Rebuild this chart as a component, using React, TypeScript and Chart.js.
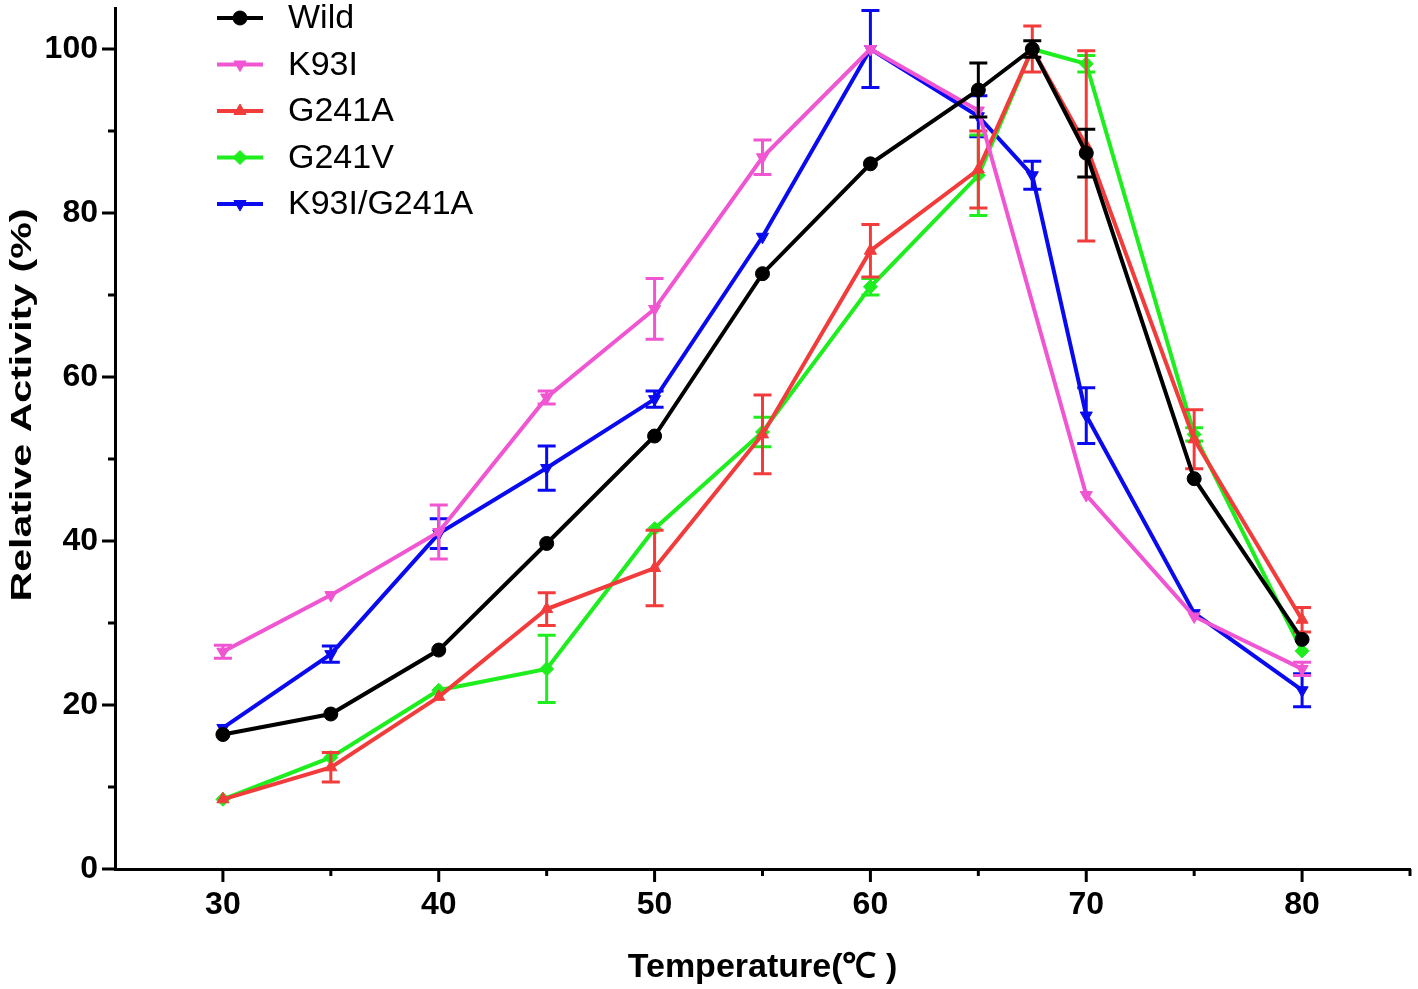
import React, { useEffect, useRef } from 'react';
import { Chart, registerables } from 'chart.js';
import { drawPoint } from 'chart.js/helpers';

Chart.register(...registerables);

// ---------- data ----------
const temperatures = [30, 35, 40, 45, 50, 55, 60, 65, 67.5, 70, 75, 80];

const wildValues = [16.4, 18.9, 26.7, 39.7, 52.8, 72.6, 86.0, 95.0, 100, 87.3, 47.6, 28.0];
const wildErrors = [0, 0, 0, 0, 0, 0, 0, 3.3, 1.0, 2.9, 0, 0];

const k93iValues = [26.5, 33.4, 41.1, 57.5, 68.3, 86.8, 100, 92.5, null, 45.6, 30.8, 24.4];
const k93iErrors = [0.8, 0, 3.3, 0.8, 3.7, 2.1, 0, 0, null, 0, 0, 0.8];

const g241aValues = [8.5, 12.4, 21.0, 31.7, 36.7, 53.0, 75.4, 85.3, 100, 88.2, 52.4, 30.4];
const g241aErrors = [0, 1.8, 0, 2.0, 4.6, 4.8, 3.2, 4.7, 2.8, 11.6, 3.6, 1.5];

const g241vValues = [8.5, 13.6, 21.8, 24.4, 41.5, 53.3, 71.0, 84.6, 100, 98.2, 53.0, 26.6];
const g241vErrors = [0, 0, 0, 4.1, 0, 1.8, 1.0, 4.9, 0, 1.0, 0.8, 0];

const doubleValues = [17.2, 26.2, 40.9, 48.9, 57.3, 77.1, 100, 91.8, 84.6, 55.3, 31.2, 21.8];
const doubleErrors = [0, 1.0, 1.8, 2.7, 1.0, 0, 4.7, 2.5, 1.7, 3.4, 0, 2.0];

const seriesNames = ['Wild', 'K93I', 'G241A', 'G241V', 'K93I/G241A'];
const seriesColors = ['#000000', '#F055D2', '#F23C3C', '#1EEE1E', '#0A0AF0'];
const seriesStyles = ['circle', 'triangle', 'triangle', 'rectRot', 'triangle'];
const seriesRotations = [0, 180, 0, 0, 180];
const seriesValues = [wildValues, k93iValues, g241aValues, g241vValues, doubleValues];
const seriesErrors = [wildErrors, k93iErrors, g241aErrors, g241vErrors, doubleErrors];

const xMajorTicks = [30, 40, 50, 60, 70, 80];
const xMinorTicks = [35, 45, 55, 65, 75, 85];
const yMajorTicks = [0, 20, 40, 60, 80, 100];
const yMinorTicks = [10, 30, 50, 70, 90];

const xTitle = 'Temperature(℃ )';
const yTitle = 'Relative Activity (%)';

const FONT = "'Liberation Sans', Arial, sans-serif";

// ---------- plugins ----------
const errorBarPlugin = {
  id: 'errorBars',
  afterDatasetDraw(chart: any, args: any) {
    const i = args.index;
    const errs = seriesErrors[i];
    const ctx = chart.ctx;
    const xs = chart.scales.x;
    const ys = chart.scales.y;
    ctx.save();
    ctx.strokeStyle = seriesColors[i];
    ctx.lineWidth = 3;
    temperatures.forEach((t, k) => {
      const v = seriesValues[i][k];
      const e = errs[k];
      if (v == null || !e) return;
      const px = xs.getPixelForValue(t);
      const top = ys.getPixelForValue(v + e);
      const bot = ys.getPixelForValue(v - e);
      ctx.beginPath();
      ctx.moveTo(px, top);
      ctx.lineTo(px, bot);
      ctx.moveTo(px - 9, top);
      ctx.lineTo(px + 9, top);
      ctx.moveTo(px - 9, bot);
      ctx.lineTo(px + 9, bot);
      ctx.stroke();
    });
    ctx.restore();
  },
};

const axisDecorPlugin = {
  id: 'axisDecor',
  afterDraw(chart: any) {
    const ctx = chart.ctx;
    const xs = chart.scales.x;
    const ys = chart.scales.y;
    const area = chart.chartArea;
    ctx.save();
    ctx.strokeStyle = '#000';
    ctx.lineWidth = 3;
    ctx.beginPath();
    yMajorTicks.forEach((v) => {
      const py = ys.getPixelForValue(v);
      ctx.moveTo(area.left - 13, py);
      ctx.lineTo(area.left, py);
    });
    yMinorTicks.forEach((v) => {
      const py = ys.getPixelForValue(v);
      ctx.moveTo(area.left - 7, py);
      ctx.lineTo(area.left, py);
    });
    xMajorTicks.forEach((v) => {
      const px = xs.getPixelForValue(v);
      ctx.moveTo(px, area.bottom);
      ctx.lineTo(px, area.bottom + 13);
    });
    xMinorTicks.forEach((v) => {
      const px = xs.getPixelForValue(v);
      ctx.moveTo(px, area.bottom);
      ctx.lineTo(px, area.bottom + 7);
    });
    ctx.stroke();

    // axis titles
    ctx.fillStyle = '#000';
    ctx.font = `bold 34px ${FONT}`;
    ctx.textAlign = 'center';
    ctx.textBaseline = 'alphabetic';
    ctx.fillText(xTitle, (area.left + area.right) / 2, 977);

    ctx.save();
    ctx.translate(31, 405);
    ctx.rotate(-Math.PI / 2);
    ctx.scale(1.37, 1);
    ctx.font = `bold 30px ${FONT}`;
    ctx.fillText(yTitle, 0, 0);
    ctx.restore();

    // legend
    ctx.font = `34px ${FONT}`;
    ctx.textAlign = 'left';
    ctx.textBaseline = 'middle';
    seriesNames.forEach((name, i) => {
      const y = 18 + i * 46.5;
      ctx.strokeStyle = seriesColors[i];
      ctx.fillStyle = seriesColors[i];
      ctx.lineWidth = 4;
      ctx.beginPath();
      ctx.moveTo(217, y);
      ctx.lineTo(263, y);
      ctx.stroke();
      ctx.lineWidth = 1;
      drawPoint(ctx, { pointStyle: seriesStyles[i], radius: 7, rotation: seriesRotations[i], borderWidth: 1 } as any, 240, y);
      ctx.fillStyle = '#000';
      ctx.fillText(name, 288, y + 1);
    });
    ctx.restore();
  },
};

function zeroPadding(scale: any) {
  scale.paddingTop = 0;
  scale.paddingBottom = 0;
  scale.paddingLeft = 0;
  scale.paddingRight = 0;
}

export default function App() {
  const canvasRef = useRef<HTMLCanvasElement | null>(null);

  useEffect(() => {
    document.body.style.margin = '0';
    const canvas = canvasRef.current;
    if (!canvas) return;

    const datasets = seriesNames.map((name, i) => ({
      label: name,
      data: temperatures
        .map((t, k) => ({ x: t, y: seriesValues[i][k] }))
        .filter((p) => p.y != null),
      borderColor: seriesColors[i],
      backgroundColor: seriesColors[i],
      borderWidth: 4,
      pointStyle: seriesStyles[i],
      pointRotation: seriesRotations[i],
      pointRadius: 7,
      pointBorderWidth: 1,
      pointHoverRadius: 7,
      tension: 0,
      fill: false,
    }));

    const chart = new Chart(canvas, {
      type: 'line',
      data: { datasets },
      options: {
        animation: false,
        responsive: false,
        maintainAspectRatio: false,
        layout: { padding: { top: -2, right: -1, left: 0, bottom: 0 } },
        plugins: {
          legend: { display: false },
          tooltip: { enabled: false },
          title: { display: false },
        },
        scales: {
          x: {
            type: 'linear',
            min: 25,
            max: 85,
            grid: { display: false, drawTicks: false },
            border: { display: true, color: '#000', width: 3 },
            ticks: {
              color: '#000',
              padding: 17,
              maxRotation: 0,
              autoSkip: false,
              font: { family: FONT, size: 32, weight: 'bold' },
            },
            afterBuildTicks(scale: any) {
              scale.ticks = xMajorTicks.map((v) => ({ value: v }));
            },
            afterFit(scale: any) {
              scale.height = 120;
              zeroPadding(scale);
            },
          },
          y: {
            type: 'linear',
            min: 0,
            max: 105,
            grid: { display: false, drawTicks: false },
            border: { display: true, color: '#000', width: 3 },
            ticks: {
              color: '#000',
              padding: 17,
              autoSkip: false,
              font: { family: FONT, size: 32, weight: 'bold' },
            },
            afterBuildTicks(scale: any) {
              scale.ticks = yMajorTicks.map((v) => ({ value: v }));
            },
            afterFit(scale: any) {
              scale.width = 115;
              zeroPadding(scale);
            },
          },
        },
      },
      plugins: [errorBarPlugin, axisDecorPlugin],
    });

    return () => chart.destroy();
  }, []);

  return (
    <div style={{ width: 1418, height: 989, background: '#fff' }}>
      <canvas ref={canvasRef} width={1418} height={989} />
    </div>
  );
}
